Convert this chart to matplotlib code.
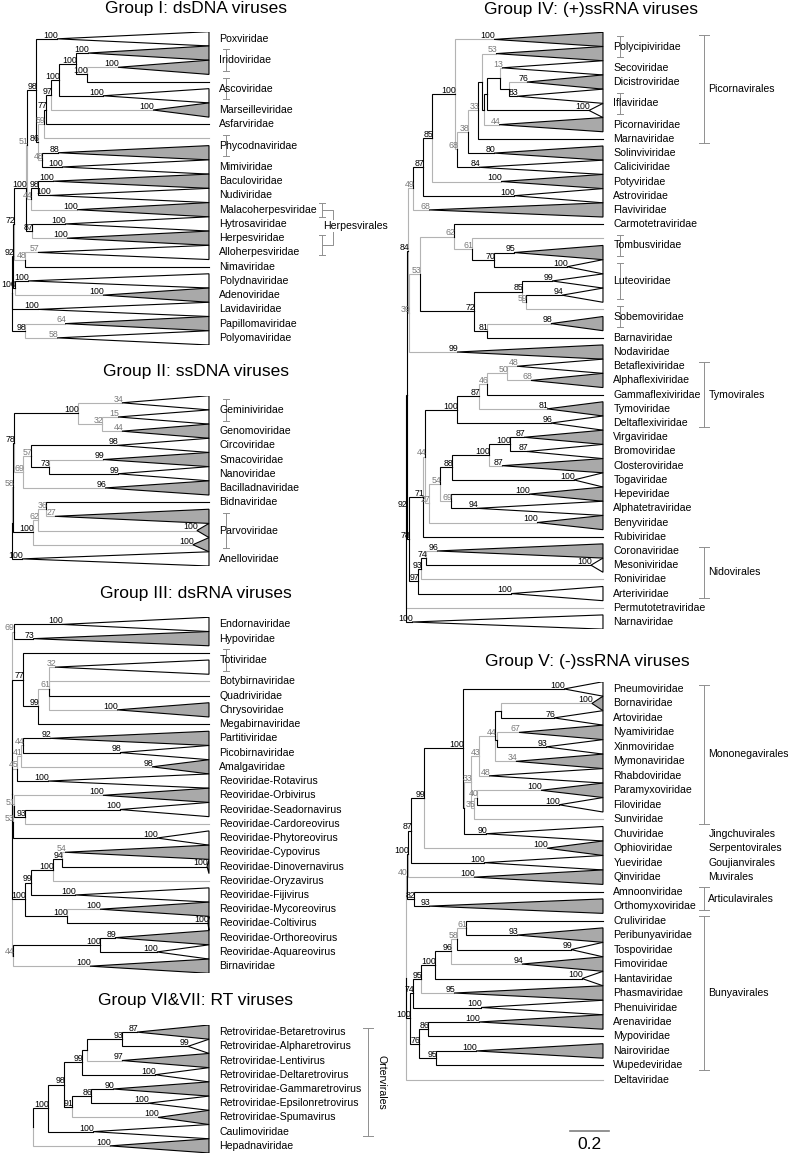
import matplotlib.pyplot as plt
from matplotlib.patches import Polygon

plt.rcParams['font.family'] = ['Liberation Sans', 'DejaVu Sans']

W, H = 788, 1153
TIP = 1.018          # collapsed clades all end on the same depth
SCALE_PX = 193.5     # pixels per unit of branch length
LW = 0.8
GREY_FILL = '#a9a9a9'
FAINT = '#b3b3b3'
FAINT_TXT = '#7a7a7a'
BRACKET = '#8f8f8f'
NAME_X = 1.072
FAM_X = 1.106
ORD_X = 1.540
ORD_TXT_X = 1.563
NAME_FS = 7.6
BOOT_FS = 6.3

# ---------------- Group I: dsDNA ----------------
g1_names = ['Poxviridae', 'Iridoviridae', 'Iridoviridae', 'Ascoviridae', 'Ascoviridae',
            'Marseilleviridae', 'Asfarviridae', 'Phycodnaviridae', 'Phycodnaviridae',
            'Mimiviridae', 'Baculoviridae', 'Nudiviridae', 'Malacoherpesviridae',
            'Hytrosaviridae', 'Herpesviridae', 'Alloherpesviridae', 'Nimaviridae',
            'Polydnaviridae', 'Adenoviridae', 'Lavidaviridae', 'Papillomaviridae',
            'Polyomaviridae']
g1_kind = 'wgglwgllgwgwgwgwlwgwgw'
g1_boot = ['100', '100', '100', None, '100', '100', None, None, '88', '100', '100',
           '100', '100', '100', '100', '57', None, '100', '100', '100', '64', '58']
g1_apex = [.233, .393, .548, None, .470, .729, None, None, .238, .258, .212, .196,
           .336, .274, .284, .134, None, .083, .470, .134, .274, .233]
g1_faint = {2, 5, 7, 12, 14, 18}
g1_tree = (None, 0, [
    ('92', .005, [
        ('72', .010, [
            ('100', .072, [
                ('51', .078, [
                    ('98', .124, [0,
                        ('86', .134, [
                            ('59', .165, [
                                ('77', .176, [
                                    ('97', .202, [
                                        ('100', .243, [
                                            ('100', .331, [1, ('100', .388, [2, 3])]),
                                            4]),
                                        5]),
                                    6]),
                                7]),
                            ('48', .155, [8, 9])])]),
                    ('44', .098, [('98', .134, [10, 11]), 12])]),
                ('87', .103, [13, 14])]),
            ('48', .067, [15, 16])]),
        ('100', .013, [17, 18])]),
    19,
    ('98', .067, [20, 21])])

# ---------------- Group II: ssDNA ----------------
g2_names = ['Geminiviridae', 'Geminiviridae', 'Genomoviridae', 'Circoviridae',
            'Smacoviridae', 'Nanoviridae', 'Bacilladnaviridae', 'Bidnaviridae',
            'Parvoviridae', 'Parvoviridae', 'Parvoviridae', 'Anelloviridae']
g2_kind = 'wwgwgwglgggw'
g2_boot = ['34', '15', '44', '98', '99', '99', '96', None, '27', '100', '100', '100']
g2_apex = [.568, .548, .568, .543, .470, .548, .481, None, .222, .956, .935, .052]
g2_faint = {4, 6, 9, 10}
g2_tree = (None, 0, [
    ('58', .004, [
        ('78', .010, [
            ('100', .341, [0, ('32', .465, [1, 2])]),
            ('69', .057, [('57', .098, [3, ('73', .191, [4, 5])]), 6])]),
        ('100', .109, [('62', .134, [('36', .176, [7, 8]), 9]), 10])]),
    11])

# ---------------- Group III: dsRNA ----------------
g3_names = ['Endornaviridae', 'Hypoviridae', 'Totiviridae', 'Totiviridae',
            'Botybirnaviridae', 'Quadriviridae', 'Chrysoviridae', 'Megabirnaviridae',
            'Partitiviridae', 'Picobirnaviridae', 'Amalgaviridae', 'Reoviridae-Rotavirus',
            'Reoviridae-Orbivirus', 'Reoviridae-Seadornavirus', 'Reoviridae-Cardoreovirus',
            'Reoviridae-Phytoreovirus', 'Reoviridae-Cypovirus', 'Reoviridae-Dinovernavirus',
            'Reoviridae-Oryzavirus', 'Reoviridae-Fijivirus', 'Reoviridae-Mycoreovirus',
            'Reoviridae-Coltivirus', 'Reoviridae-Orthoreovirus', 'Reoviridae-Aquareovirus',
            'Birnaviridae']
g3_kind = 'wglwllglgwgwgwlwgglwgwgwg'
g3_boot = ['100', '73', None, '32', None, None, '100', None, '92', '98', '98', '100',
           '100', '100', None, '100', '54', '100', None, '100', '100', '100', '89',
           '100', '100']
g3_apex = [.258, .109, None, .222, None, None, .543, None, .196, .558, .724, .186,
           .470, .558, None, .749, .274, 1.008, None, .326, .455, 1.013, .532, .749,
           .403]
g3_faint = {4, 6, 10, 12, 14, 18, 20, 24}
g3_tree = (None, 0, [
    ('69', .008, [0, 1]),
    ('77', .057, [2, ('99', .134, [('61', .191, [3, 4, 5, 6]), 7])]),
    ('45', .026, [('41', .047, [('44', .057, [8, 9]), 10]), 11]),
    ('53', .005, [('51', .010, [12, ('93', .067, [13, 14])]), 15]),
    ('100', .067, [('99', .098, [('100', .212, [('94', .258, [16, 17]), 18]), 19]),
                   ('100', .284, [20, 21])]),
    ('44', .005, [('100', .455, [22, 23]), 24])])

# ---------------- Group VI & VII: RT ----------------
g6_names = ['Retroviridae-Betaretrovirus', 'Retroviridae-Alpharetrovirus',
            'Retroviridae-Lentivirus', 'Retroviridae-Deltaretrovirus',
            'Retroviridae-Gammaretrovirus', 'Retroviridae-Epsilonretrovirus',
            'Retroviridae-Spumavirus', 'Caulimoviridae', 'Hepadnaviridae']
g6_kind = 'gwgwgwgwg'
g6_boot = ['87', '99', '97', '100', '90', '100', '100', '100', '100']
g6_apex = [.646, .910, .568, .739, .522, .703, .755, .419, .506]
g6_faint = {2, 6, 8}
g6_tree = (None, .109, [
    ('100', .186, [
        ('98', .269, [
            ('99', .362, [(None, .388, [('93', .568, [0, 1]), 2]), 3]),
            ('91', .310, [('86', .408, [4, 5]), 6])]),
        7]),
    8])

# ---------------- Group IV: (+)ssRNA ----------------
g4_names = ['Polycipiviridae', 'Polycipiviridae', 'Secoviridae', 'Dicistroviridae',
            'Iflaviridae', 'Iflaviridae', 'Picornaviridae', 'Marnaviridae',
            'Solinviviridae', 'Caliciviridae', 'Potyviridae', 'Astroviridae',
            'Flaviviridae', 'Carmotetraviridae', 'Tombusviridae', 'Tombusviridae',
            'Luteoviridae', 'Luteoviridae', 'Luteoviridae', 'Sobemoviridae',
            'Sobemoviridae', 'Barnaviridae', 'Nodaviridae', 'Betaflexiviridae',
            'Alphaflexiviridae', 'Gammaflexiviridae', 'Tymoviridae', 'Deltaflexiviridae',
            'Virgaviridae', 'Bromoviridae', 'Closteroviridae', 'Togaviridae',
            'Hepeviridae', 'Alphatetraviridae', 'Benyviridae', 'Rubiviridae',
            'Coronaviridae', 'Mesoniviridae', 'Roniviridae', 'Arteriviridae',
            'Permutotetraviridae', 'Narnaviridae']
g4_kind = 'ggwgwwglgw' 'gwgllgwwwl' 'glgwglgwgw' 'gwgwglgwlw' 'lw'
g4_boot = ['100', '53', '13', '76', '83', '100', '44', None, '80', '84',
           '100', '100', '68', None, None, '95', '100', '99', '94', None,
           '98', None, '99', '48', '68', None, '81', '96', '87', '87',
           '87', '100', '100', '94', '100', None, '96', '100', None, '100',
           None, '100']
g4_apex = [.455, .465, .496, .625, .574, .946, .481, None, .455, .377,
           .491, .558, .119, None, None, .558, .832, .755, .806, None,
           .749, None, .264, .574, .646, None, .729, .749, .610, .625,
           .496, .868, .636, .367, .677, None, .160, .956, None, .543,
           None, .031]
g4_faint = {0, 3, 10, 14, 19, 20, 22, 26, 30, 34, 36, 38, 40}
g4_tree = ('92', 0, [
    (None, .003, [
        ('84', .010, [
            ('49', .036, [
                ('87', .088, [
                    ('85', .134, [
                        ('100', .253, [0,
                            ('68', .264, [
                                ('38', .320, [
                                    ('33', .372, [
                                        (None, .393, [1,
                                            (None, .403, [
                                                (None, .419, [
                                                    (None, .486, [2, (None, .532, [3, 4])]),
                                                    5]),
                                                6])]),
                                        7]),
                                    8]),
                                9])]),
                        10]),
                    11]),
                12]),
            ('39', .016, [
                ('53', .072, [
                    ('62', .248, [13, ('61', .341, [14, ('70', .455, [15, 16])])]),
                    ('72', .351, [('85', .599, [17, ('59', .620, [18, 19])]),
                                  ('81', .419, [20, 21])])]),
                22])]),
        ('78', .016, [
            ('71', .088, [
                ('44', .098, [
                    ('100', .264, [('87', .377, [('46', .419, [('50', .522, [23, 24]), 25]),
                                                 26]), 27]),
                    ('27', .119, [
                        ('54', .176, [
                            ('88', .238, [('100', .429, [('100', .537, [28, 29]), 30]), 31]),
                            ('69', .233, [32, 33])]),
                        34])]),
                35]),
            ('97', .062, [('93', .078, [('74', .103, [36, 37]), 38]), 39])])]),
    40, 41])

# ---------------- Group V: (-)ssRNA ----------------
g5_names = ['Pneumoviridae', 'Bornaviridae', 'Artoviridae', 'Nyamiviridae',
            'Xinmoviridae', 'Mymonaviridae', 'Rhabdoviridae', 'Paramyxoviridae',
            'Filoviridae', 'Sunviridae', 'Chuviridae', 'Ophioviridae', 'Yueviridae',
            'Qinviridae', 'Amnoonviridae', 'Orthomyxoviridae', 'Cruliviridae',
            'Peribunyaviridae', 'Tospoviridae', 'Fimoviridae', 'Hantaviridae',
            'Phasmaviridae', 'Phenuiviridae', 'Arenaviridae', 'Mypoviridae',
            'Nairoviridae', 'Wupedeviridae', 'Deltaviridae']
g5_kind = 'wgwgwgwgwl' 'wgwglglgwg' 'wgwglgll'
g5_boot = ['100', '100', '76', '67', '93', '34', '48', '100', '100', None,
           '90', '100', '100', '100', None, '93', None, '93', '99', '94',
           '100', '95', '100', '100', None, '100', None, None]
g5_apex = [.817, .961, .765, .584, .724, .568, .429, .698, .791, None,
           .413, .729, .403, .351, None, .119, None, .574, .853, .599,
           .910, .248, .388, .377, None, .362, None, None]
g5_faint = {1, 7, 9, 11, 13, 19, 21, 27}
g5_tree = (None, 0, [
    ('40', .004, [
        ('100', .008, [
            ('87', .026, [
                ('99', .093, [
                    ('100', .295, [0,
                        (None, .300, [
                            ('33', .336, [
                                ('43', .377, [('44', .460, [(None, .491, [1, 2]),
                                                            (None, .470, [3, 4]), 5]), 6]),
                                ('35', .351, [('40', .367, [7, 8]), 9])]),
                            10])]),
                    11]),
                12]),
            13]),
        ('82', .041, [14, 15])]),
    ('100', .021, [
        ('74', .036, [('95', .078, [('100', .150, [('96', .233, [('58', .264, [
            ('61', .310, [16, 17]), 18]), 19]), 20]), 21]), 22]),
        ('76', .067, [('86', .114, [23, 24]), ('95', .155, [25, 26])])]),
    27])

g4_orders = [('Picornavirales', 0, 7), ('Tymovirales', 23, 27), ('Nidovirales', 36, 39)]
g5_orders = [('Mononegavirales', 0, 9), ('Articulavirales', 14, 15), ('Bunyavirales', 16, 26)]
g5_single_orders = [('Jingchuvirales', 10), ('Serpentovirales', 11),
                    ('Goujianvirales', 12), ('Muvirales', 13)]

fig = plt.figure(figsize=(W / 100, H / 100), dpi=100)


def centre(i):
    return i + 0.5


def sub_y(node):
    if isinstance(node, int):
        return centre(node)
    ys = [sub_y(k) for k in node[2]]
    return (ys[0] + ys[-1]) / 2


def weak(boot):
    return boot is not None and int(boot) < 70


def boot_text(ax, x, y, boot):
    if boot is None:
        return
    ax.text(x + 0.006, y - 0.08, boot, ha='right', va='baseline', fontsize=BOOT_FS,
            color=FAINT_TXT if weak(boot) else 'black', zorder=5)


def draw_clade(ax, node, tr):
    label, depth, kids = node
    y = sub_y(node)
    for k in kids:
        if isinstance(k, int):
            ky = centre(k)
            apex = tr['apex'][k]
            kx = TIP if apex is None else apex
            boot = tr['boot'][k]
            faint = k in tr['faint'] or weak(boot)
        else:
            ky, kx, boot = sub_y(k), k[1], k[0]
            faint = weak(boot)
            draw_clade(ax, k, tr)
        ax.plot([depth, depth, kx], [y, ky, ky], color=FAINT if faint else 'black',
                lw=LW, zorder=1 if faint else 2, solid_joinstyle='miter')
        if isinstance(k, int) and apex is not None:
            fc = GREY_FILL if tr['kind'][k] == 'g' else 'white'
            ax.add_patch(Polygon([(apex, ky), (TIP, k), (TIP, k + 1)], closed=True,
                                 fc=fc, ec='black', lw=LW, zorder=3))
        boot_text(ax, kx, ky, boot)


def ibracket(ax, x, top, bot, half, color=BRACKET):
    ax.plot([x, x], [top, bot], color=color, lw=0.7, clip_on=False)
    ax.plot([x - half, x + half], [top, top], color=color, lw=0.7, clip_on=False)
    ax.plot([x - half, x + half], [bot, bot], color=color, lw=0.7, clip_on=False)


def draw_names(ax, names):
    i = 0
    while i < len(names):
        j = i
        while j + 1 < len(names) and names[j + 1] == names[i]:
            j += 1
        yc = (centre(i) + centre(j)) / 2
        ax.text(NAME_X, yc, names[i], ha='left', va='center', fontsize=NAME_FS)
        if j > i:
            ibracket(ax, FAM_X, centre(i) - 0.25, centre(j) + 0.25, 0.018)
        i = j + 1


def order_bracket(ax, name, first, last):
    top, bot = centre(first) - 0.3, centre(last) + 0.3
    ibracket(ax, ORD_X, top, bot, 0.026)
    ax.text(ORD_TXT_X, (top + bot) / 2, name, ha='left', va='center', fontsize=NAME_FS)


def panel(left, top, pitch, title, tx, ty, names, kind, boot, apex, faint, tree):
    n = len(names)
    ax = fig.add_axes([left / W, 1 - (top + n * pitch) / H, 394 / W, n * pitch / H])
    ax.set_xlim(-12 / SCALE_PX, 382 / SCALE_PX)
    ax.set_ylim(n, 0)
    ax.axis('off')
    tr = dict(kind=kind, boot=boot, apex=apex, faint=faint)
    draw_clade(ax, tree, tr)
    boot_text(ax, tree[1], sub_y(tree), tree[0])
    draw_names(ax, names)
    fig.text(tx / W, 1 - ty / H, title, ha='center', va='baseline', fontsize=12.5)
    return ax


ax1 = panel(0, 31.7, 14.24, 'Group I: dsDNA viruses', 196, 13.5,
            g1_names, g1_kind, g1_boot, g1_apex, g1_faint, g1_tree)
ax2 = panel(0, 395.7, 14.19, 'Group II: ssDNA viruses', 196, 376.5,
            g2_names, g2_kind, g2_boot, g2_apex, g2_faint, g2_tree)
ax3 = panel(0, 617.3, 14.24, 'Group III: dsRNA viruses', 196, 598,
            g3_names, g3_kind, g3_boot, g3_apex, g3_faint, g3_tree)
ax6 = panel(0, 1025, 14.22, 'Group VI&VII: RT viruses', 196, 1005,
            g6_names, g6_kind, g6_boot, g6_apex, g6_faint, g6_tree)
ax4 = panel(394, 32.3, 14.21, 'Group IV: (+)ssRNA viruses', 591, 14,
            g4_names, g4_kind, g4_boot, g4_apex, g4_faint, g4_tree)
ax5 = panel(394, 681.7, 14.48, 'Group V: (-)ssRNA viruses', 587, 666,
            g5_names, g5_kind, g5_boot, g5_apex, g5_faint, g5_tree)

# Herpesvirales: Malacoherpesviridae + (Herpesviridae, Alloherpesviridae)
hx, hx2 = 1.602, 1.659
ibracket(ax1, hx, 12, 13, 0.018)
ibracket(ax1, hx, centre(14) - 0.2, centre(15) + 0.2, 0.018)
ya, yb = centre(12), (centre(14) + centre(15)) / 2
ax1.plot([hx, hx2, hx2, hx], [ya, ya, yb, yb], color=BRACKET, lw=0.7, clip_on=False)
ax1.text(1.607, (ya + yb) / 2 - 0.1, 'Herpesvirales', ha='left', va='center',
         fontsize=NAME_FS, bbox=dict(fc='white', ec='none', pad=0.6), zorder=6)

# Ortervirales
ibracket(ax6, 1.840, centre(0) - 0.3, centre(7) + 0.3, 0.026)
ax6.text(1.912, (centre(0) + centre(7)) / 2, 'Ortervirales', ha='center', va='center',
         rotation=270, fontsize=NAME_FS)

for name, a, b in g4_orders:
    order_bracket(ax4, name, a, b)
for name, a, b in g5_orders:
    order_bracket(ax5, name, a, b)
for name, i in g5_single_orders:
    ax5.text(ORD_TXT_X, centre(i), name, ha='left', va='center', fontsize=NAME_FS)

# scale bar (0.2 substitutions per site)
ax5.plot([.848, .848 + 0.2], [31.03, 31.03], color='#7f7f7f', lw=1.2, clip_on=False)
ax5.text(.848 + 0.1, 31.95, '0.2', ha='center', va='center', fontsize=12.5)

fig.savefig('out.png', dpi=100)
